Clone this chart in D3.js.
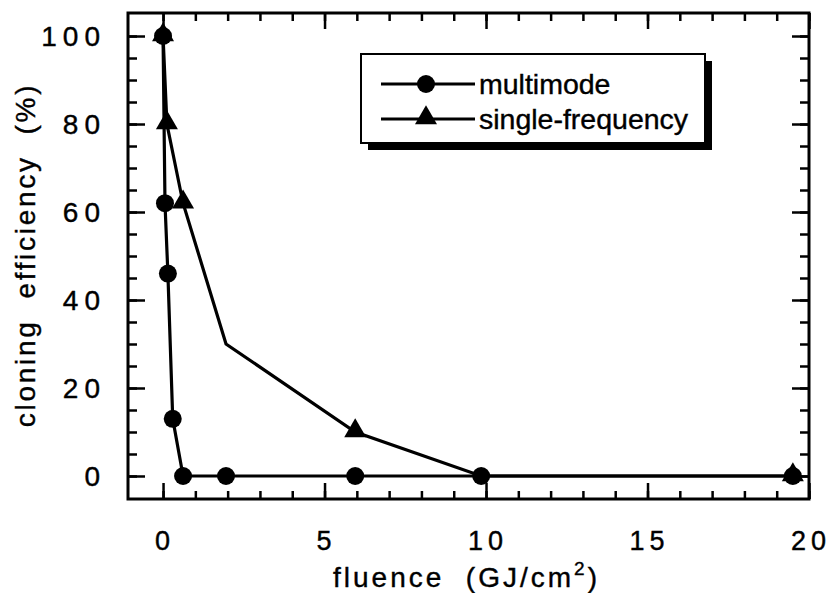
<!DOCTYPE html>
<html>
<head>
<meta charset="utf-8">
<script src="https://cdn.jsdelivr.net/npm/d3@7"></script>
<style>
  body { margin: 0; background: #fff; }
  text { font-family: "Liberation Sans", Arial, Helvetica, sans-serif; fill: #000; stroke: #000; stroke-width: 0.4px; }
</style>
</head>
<body>
<div id="chart"></div>
<script>
// data
let mmFluence = [0, 0.06, 0.15, 0.3, 0.62, 1.95, 5.95, 9.85, 19.5];
let mmEff = [100, 62, 46, 13, 0, 0, 0, 0, 0];
let sfFluence = [0, 0.12, 0.62, 1.95, 5.95, 9.85, 19.5];
let sfEff = [100, 80, 62, 30, 10, 0, 0];
let sfMarked = [true, true, true, false, true, false, true];

let xMajor = [0, 5, 10, 15, 20];
let xMinor = d3.range(0, 21, 1);
let yMajor = [0, 20, 40, 60, 80, 100];
let yMinor = d3.range(0, 101, 5);
let legendNames = ['multimode', 'single-frequency'];

let width = 830, height = 593;
let pLeft = 128, pRight = 809, pTop = 13, pBottom = 499;

let svg = d3.select('#chart').append('svg')
  .attr('width', width)
  .attr('height', height);

let x = d3.scaleLinear().domain([-1.085, 20]).range([pLeft, pRight]);
let y = d3.scaleLinear().domain([-5.23, 105.23]).range([pBottom, pTop]);

// ticks on all four sides, pointing in
function ticks(axisFn, vals, size, tx) {
  let g = svg.append('g')
    .attr('transform', tx)
    .call(axisFn.tickValues(vals).tickSize(-size).tickFormat(''));
  g.select('.domain').remove();
  g.selectAll('line').attr('stroke', '#000').attr('stroke-width', 2.5);
}
ticks(d3.axisBottom(x), xMinor, 8, 'translate(0,' + pBottom + ')');
ticks(d3.axisBottom(x), xMajor, 16, 'translate(0,' + pBottom + ')');
ticks(d3.axisTop(x), xMinor, 8, 'translate(0,' + pTop + ')');
ticks(d3.axisTop(x), xMajor, 16, 'translate(0,' + pTop + ')');
ticks(d3.axisLeft(y), yMinor, 9, 'translate(' + pLeft + ',0)');
ticks(d3.axisLeft(y), yMajor, 17, 'translate(' + pLeft + ',0)');
ticks(d3.axisRight(y), yMinor, 9, 'translate(' + pRight + ',0)');
ticks(d3.axisRight(y), yMajor, 17, 'translate(' + pRight + ',0)');

svg.append('rect')
  .attr('x', pLeft).attr('y', pTop)
  .attr('width', pRight - pLeft).attr('height', pBottom - pTop)
  .attr('fill', 'none').attr('stroke', '#000').attr('stroke-width', 3);

// tick labels
svg.selectAll('.xl').data(xMajor).enter().append('text')
  .attr('x', function(d) { return x(d) + 2; })
  .attr('y', 550)
  .attr('text-anchor', 'middle')
  .style('font-size', '27px')
  .style('letter-spacing', '5px')
  .text(function(d) { return d; });

svg.selectAll('.yl').data(yMajor).enter().append('text')
  .attr('x', 106)
  .attr('y', function(d) { return y(d) + 10; })
  .attr('text-anchor', 'end')
  .style('font-size', '28px')
  .style('letter-spacing', '6px')
  .text(function(d) { return d; });

// axis titles
let xt = svg.append('text')
  .attr('x', 333).attr('y', 587)
  .style('font-size', '28px')
  .style('letter-spacing', '3px')
  .attr('xml:space', 'preserve');
xt.append('tspan').text('fluence  (GJ/cm');
xt.append('tspan').attr('dy', -12).style('font-size', '19px').text('2');
xt.append('tspan').attr('dy', 12).text(')');

svg.append('text')
  .attr('transform', 'translate(35,255) rotate(-90)')
  .attr('text-anchor', 'middle')
  .attr('xml:space', 'preserve')
  .style('font-size', '28px')
  .style('letter-spacing', '2.7px')
  .text('cloning  efficiency  (%)');

// series
let line = d3.line()
  .x(function(d) { return x(d[0]); })
  .y(function(d) { return y(d[1]); });

let sfData = sfFluence.map(function(f, i) { return [f, sfEff[i], sfMarked[i]]; });
let mmData = mmFluence.map(function(f, i) { return [f, mmEff[i]]; });

svg.append('path').datum(sfData).attr('d', line)
  .attr('fill', 'none').attr('stroke', '#000').attr('stroke-width', 3.2);
svg.append('path').datum(mmData).attr('d', line)
  .attr('fill', 'none').attr('stroke', '#000').attr('stroke-width', 3.2);

let tri = d3.symbol().type(d3.symbolTriangle).size(210);

svg.selectAll('.tri').data(sfData.filter(function(d) { return d[2]; }))
  .enter().append('path')
  .attr('d', tri)
  .attr('transform', function(d) { return 'translate(' + x(d[0]) + ',' + (y(d[1]) - 1) + ')'; })
  .attr('fill', '#000');

svg.selectAll('.dot').data(mmData).enter().append('circle')
  .attr('cx', function(d) { return x(d[0]); })
  .attr('cy', function(d) { return y(d[1]); })
  .attr('r', 9)
  .attr('fill', '#000');

// legend
let lg = svg.append('g');
lg.append('rect').attr('x', 368).attr('y', 61).attr('width', 344).attr('height', 89).attr('fill', '#000');
lg.append('rect').attr('x', 361).attr('y', 54).attr('width', 344).attr('height', 89)
  .attr('fill', '#fff').attr('stroke', '#000').attr('stroke-width', 2);

legendNames.forEach(function(name, i) {
  let ly = 84 + i * 35;
  lg.append('line').attr('x1', 381).attr('x2', 475).attr('y1', ly).attr('y2', ly)
    .attr('stroke', '#000').attr('stroke-width', 3);
  if (i === 0) {
    lg.append('circle').attr('cx', 426).attr('cy', ly).attr('r', 9).attr('fill', '#000');
  } else {
    lg.append('path').attr('d', tri).attr('transform', 'translate(426,' + (ly - 1) + ')').attr('fill', '#000');
  }
  lg.append('text').attr('x', 479).attr('y', ly + 10)
    .style('font-size', '28.5px')
    .text(name);
});
</script>
</body>
</html>
